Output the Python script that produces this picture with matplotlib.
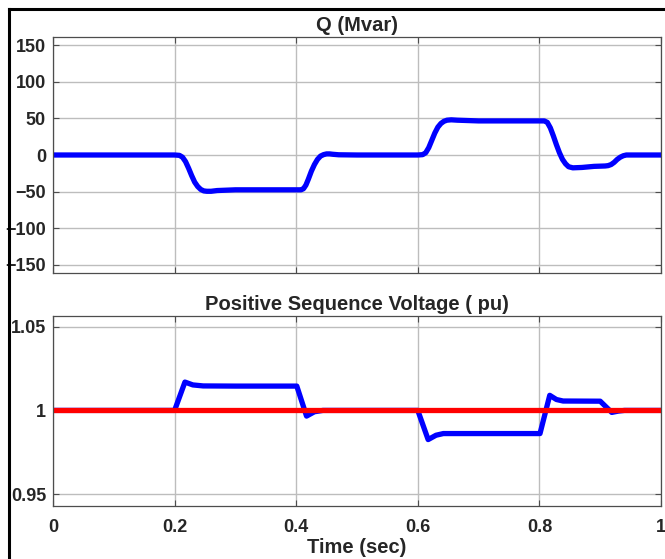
import matplotlib
matplotlib.use("Agg")
import matplotlib.pyplot as plt
from matplotlib.lines import Line2D

# reactive power (Mvar)
q_time = [0.0, 0.2, 0.208, 0.213, 0.218, 0.223, 0.228, 0.233, 0.238, 0.243, 0.248,
          0.253, 0.26, 0.27, 0.3, 0.35, 0.408, 0.412, 0.416, 0.42, 0.425, 0.43, 0.435,
          0.44, 0.445, 0.45, 0.455, 0.46, 0.47, 0.5, 0.6, 0.608, 0.613, 0.618, 0.623,
          0.628, 0.633, 0.638, 0.643, 0.648, 0.655, 0.665, 0.7, 0.75, 0.808, 0.813,
          0.818, 0.823, 0.828, 0.833, 0.838, 0.843, 0.848, 0.855, 0.87, 0.89, 0.908,
          0.913, 0.918, 0.923, 0.928, 0.933, 0.938, 0.943, 0.95, 1.0]
q_mvar = [0, 0, -0.5, -3, -9, -18, -28, -37, -43, -47, -49,
          -49.5, -49.5, -48.5, -47.5, -47.5, -47.5, -46, -41, -33, -22, -13, -6,
          -1.5, 0.5, 1.5, 1.5, 1, 0.3, 0, 0, 0.5, 3, 10, 20,
          30, 38, 43, 46, 47.5, 48, 47.5, 46.5, 46.5, 46.5, 44.5,
          37, 26, 14, 3, -6, -12, -16, -17.5, -17, -15.5, -15,
          -14.5, -13, -10, -6, -3, -1, 0, 0, 0]

# positive sequence voltage (pu)
v_time = [0.0, 0.2, 0.217, 0.23, 0.247, 0.3, 0.401, 0.417, 0.43, 0.444, 0.5, 0.6,
          0.617, 0.63, 0.642, 0.7, 0.801, 0.817, 0.828, 0.839, 0.9, 0.919, 0.93, 0.94, 1.0]
v_pu = [1.0, 1.0, 1.0169, 1.0152, 1.0146, 1.0145, 1.0145, 0.9966, 0.9992, 1.0, 1.0, 1.0,
        0.9826, 0.9852, 0.9862, 0.9862, 0.9862, 1.009, 1.0065, 1.0056, 1.0055, 0.9988, 0.9996, 1.0, 1.0]

v_ref_time = [0.0, 1.0]
v_ref = [1.0, 1.0]

x_ticks = [0, 0.2, 0.4, 0.6, 0.8, 1]
x_labels = ["0", "0.2", "0.4", "0.6", "0.8", "1"]
q_ticks = [-150, -100, -50, 0, 50, 100, 150]
v_ticks = [0.95, 1.0, 1.05]
v_labels = ["0.95", "1", "1.05"]

plt.rcParams["font.family"] = ["Liberation Sans", "DejaVu Sans"]
plt.rcParams["font.weight"] = "bold"

fig = plt.figure(figsize=(6.65, 5.59), dpi=100)
W, H = 665, 559


def px_axes(left, top, right, bottom):
    return fig.add_axes([left / W, 1 - bottom / H, (right - left) / W, (bottom - top) / H])


def style(ax):
    for s in ax.spines.values():
        s.set_color("#4d4d4d")
        s.set_linewidth(0.9)
    ax.grid(True, color="#bdbdbd", linewidth=1.0)
    ax.set_axisbelow(True)
    ax.tick_params(direction="in", length=4, width=0.8, color="#4d4d4d",
                   top=True, right=True, labelsize=13)
    ax.tick_params(axis="y", pad=5)
    ax.tick_params(axis="x", pad=9)
    ax.set_xlim(0, 1)
    ax.set_xticks(x_ticks)


ax1 = px_axes(53, 37, 661, 273)
style(ax1)
ax1.plot(q_time, q_mvar, color="#0000ff", linewidth=3.8, solid_joinstyle="round")
ax1.set_ylim(-161, 161)
ax1.set_yticks(q_ticks)
ax1.set_xticklabels([])
ax1.set_title("Q (Mvar)", fontsize=14.5, fontweight="bold", color="#262626", pad=4)

ax2 = px_axes(53, 316, 661, 506)
style(ax2)
ax2.plot(v_time, v_pu, color="#0000ff", linewidth=3.8, solid_joinstyle="round")
ax2.plot(v_ref_time, v_ref, color="#ff0000", linewidth=3.8)
ax2.set_ylim(0.943, 1.0563)
ax2.set_yticks(v_ticks)
ax2.set_yticklabels(v_labels)
ax2.set_xticklabels(x_labels)
ax2.set_title("Positive Sequence Voltage ( pu)", fontsize=14.5, fontweight="bold",
              color="#262626", pad=4)
ax2.set_xlabel("Time (sec)", fontsize=14.5, fontweight="bold", color="#262626", labelpad=2)

for ax in (ax1, ax2):
    for lbl in ax.get_xticklabels() + ax.get_yticklabels():
        lbl.set_fontweight("bold")
        lbl.set_color("#262626")

# outer frame (left and top edges)
fig.add_artist(Line2D([9 / W, 9 / W], [0, 1 - 9 / H], color="black", linewidth=2.2,
                      transform=fig.transFigure))
fig.add_artist(Line2D([9 / W, 1], [1 - 9 / H, 1 - 9 / H], color="black", linewidth=2.2,
                      transform=fig.transFigure))

fig.savefig("out.png", dpi=100)
